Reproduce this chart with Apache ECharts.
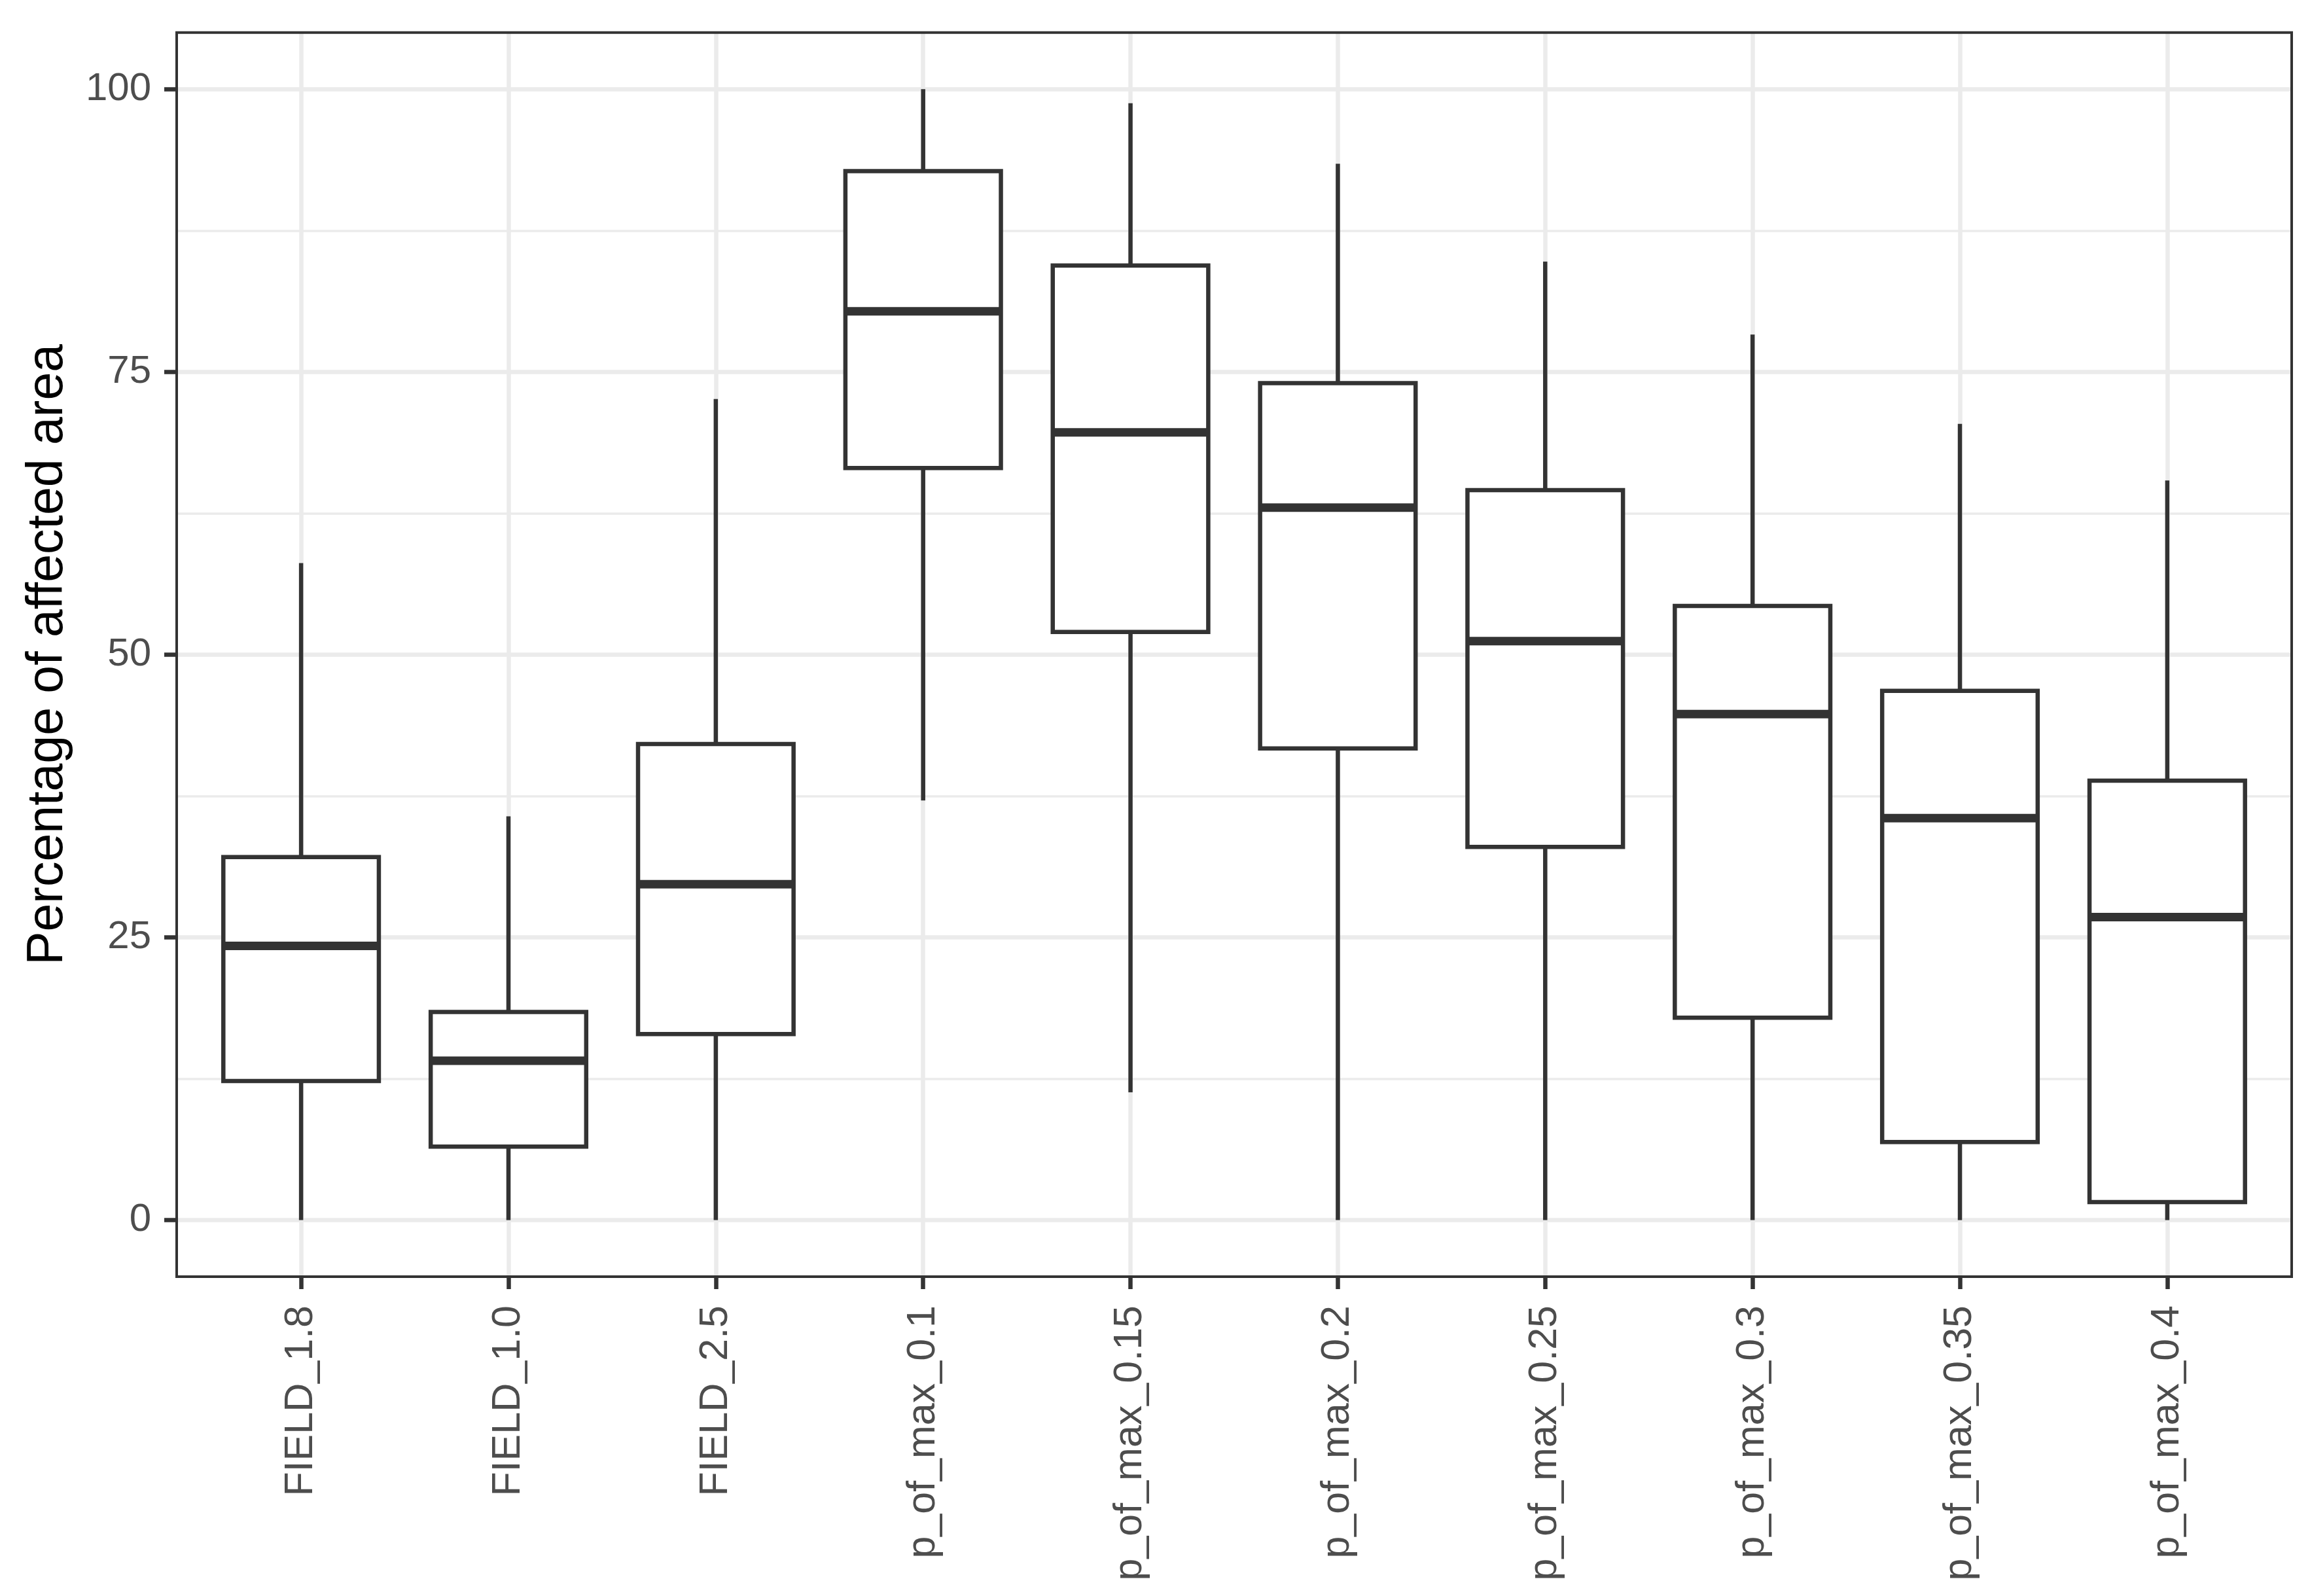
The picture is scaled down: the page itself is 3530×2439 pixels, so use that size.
<!DOCTYPE html>
<html>
<head>
<meta charset="utf-8">
<script src="https://cdn.jsdelivr.net/npm/echarts@6.0.0/dist/echarts.min.js"></script>
<style>
  html, body { margin: 0; padding: 0; background: #ffffff; }
  #chart { width: 3530px; height: 2439px; }
</style>
</head>
<body>
<div id="chart"></div>
<script>
// ---- data ----
const categories = ['FIELD_1.8', 'FIELD_1.0', 'FIELD_2.5', 'p_of_max_0.1', 'p_of_max_0.15',
                    'p_of_max_0.2', 'p_of_max_0.25', 'p_of_max_0.3', 'p_of_max_0.35', 'p_of_max_0.4'];
const whiskerLow  = [0, 0, 0, 37.1, 11.3, 0, 0, 0, 0, 0];
const q1Values    = [12.3, 6.5, 16.45, 66.5, 52.0, 41.7, 33.0, 17.9, 6.9, 1.6];
const medians     = [24.25, 14.1, 29.7, 80.35, 69.65, 63.0, 51.2, 44.75, 35.55, 26.8];
const q3Values    = [32.1, 18.4, 42.1, 92.75, 84.4, 74.0, 64.55, 54.3, 46.8, 38.85];
const whiskerHigh = [58.1, 35.7, 72.6, 100, 98.75, 93.4, 84.75, 78.3, 70.4, 65.4];
const yMajorTicks = [0, 25, 50, 75, 100];
const yMinorTicks = [12.5, 37.5, 62.5, 87.5];
const yTitle = 'Percentage of affected area';

// ---- layout ----
const W = 3530, H = 2439;
const panel = { left: 270, right: 28, top: 49.8, bottom: 488 };
const panelW = W - panel.left - panel.right;
const panelH = H - panel.top - panel.bottom;
const unit = panelW / 10.2;            // discrete expansion 0.6 each side
const xInset = unit * 0.1;
const yInset = panelH * 5 / 110;       // 5% continuous expansion

const ink = '#333333';
const gridCol = '#EBEBEB';
const font = 'Liberation Sans, Arial, sans-serif';

const boxData = categories.map((c, i) =>
  [i, whiskerLow[i], q1Values[i], medians[i], q3Values[i], whiskerHigh[i]]);

const markData = []
  .concat(yMinorTicks.map(v => ({ yAxis: v, lineStyle: { color: gridCol, width: 3.5, type: 'solid' } })))
  .concat(yMajorTicks.map(v => ({ yAxis: v, lineStyle: { color: gridCol, width: 6.5, type: 'solid' } })))
  .concat(categories.map((c, i) => ({ xAxis: i, lineStyle: { color: gridCol, width: 6.5, type: 'solid' } })));

function renderBox(params, api) {
  const i = api.value(0);
  const lo = api.coord([i, api.value(1)]);
  const q1 = api.coord([i, api.value(2)]);
  const md = api.coord([i, api.value(3)]);
  const q3 = api.coord([i, api.value(4)]);
  const hi = api.coord([i, api.value(5)]);
  const bw = api.size([1, 0])[0] * 0.75;
  const x = q1[0];
  const line = { stroke: ink, lineWidth: 6.5, fill: null };
  return {
    type: 'group',
    children: [
      { type: 'line', shape: { x1: x, y1: q3[1], x2: x, y2: hi[1] }, style: line },
      { type: 'line', shape: { x1: x, y1: q1[1], x2: x, y2: lo[1] }, style: line },
      { type: 'rect', shape: { x: x - bw / 2, y: q3[1], width: bw, height: q1[1] - q3[1] },
        style: { stroke: ink, lineWidth: 6.5, fill: '#ffffff' } },
      { type: 'line', shape: { x1: x - bw / 2, y1: md[1], x2: x + bw / 2, y2: md[1] },
        style: { stroke: ink, lineWidth: 13 } }
    ]
  };
}

const chart = echarts.init(document.getElementById('chart'), null, { renderer: 'canvas' });
chart.setOption({
  animation: false,
  backgroundColor: '#ffffff',
  grid: [
    { // panel (border on top)
      left: panel.left, right: panel.right, top: panel.top, bottom: panel.bottom,
      show: true, backgroundColor: 'transparent', borderColor: ink, borderWidth: 4, z: 10
    },
    { // x labels: inset horizontally, bottom at panel edge
      left: panel.left + xInset, right: panel.right + xInset, top: panel.top, bottom: panel.bottom,
      show: false
    },
    { // y labels: left at panel edge, inset vertically
      left: panel.left, right: panel.right, top: panel.top + yInset, bottom: panel.bottom + yInset,
      show: false
    }
  ],
  xAxis: [
    { gridIndex: 0, type: 'value', min: -0.6, max: 9.6, show: false },
    {
      gridIndex: 1, type: 'category', data: categories,
      axisLine: { show: false },
      axisTick: { show: true, alignWithLabel: true, length: 19, lineStyle: { color: ink, width: 6.5 } },
      axisLabel: { rotate: 90, interval: 0, margin: 44, fontSize: 61, color: '#4D4D4D', fontFamily: font },
      splitLine: { show: false }
    },
    { gridIndex: 2, type: 'value', min: 0, max: 1, show: false }
  ],
  yAxis: [
    { gridIndex: 0, type: 'value', min: -5, max: 105, show: false },
    { gridIndex: 1, type: 'value', min: 0, max: 1, show: false },
    {
      gridIndex: 2, type: 'value', min: 0, max: 100, interval: 25,
      name: yTitle, nameLocation: 'middle', nameGap: 158, nameRotate: 90,
      nameTextStyle: { fontSize: 77, color: '#000000', fontFamily: font },
      axisLine: { show: false },
      axisTick: { show: true, length: 19, lineStyle: { color: ink, width: 6.5 } },
      axisLabel: { margin: 39, fontSize: 60, color: '#4D4D4D', fontFamily: font },
      splitLine: { show: false }
    }
  ],
  series: [
    {
      type: 'custom',
      xAxisIndex: 0, yAxisIndex: 0,
      renderItem: renderBox,
      data: boxData,
      encode: { x: 0, y: [1, 2, 3, 4, 5] },
      z: 3,
      clip: false,
      markLine: {
        silent: true, symbol: ['none', 'none'], z: 1,
        label: { show: false },
        emphasis: { disabled: true },
        animation: false,
        data: markData
      }
    }
  ]
});
</script>
</body>
</html>
